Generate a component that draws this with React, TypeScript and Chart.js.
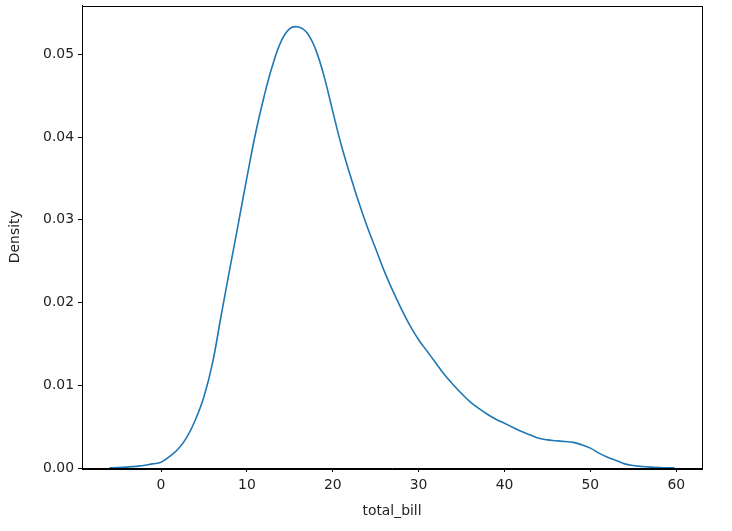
import React, { useEffect, useRef } from "react";
import { Chart, registerables } from "chart.js";

Chart.register(...registerables);

const xValues = [-6, -5, -4, -3, -2, -1, 0, 1, 2, 3, 4, 5, 6, 7, 8, 9, 10, 11, 12, 13, 14, 15, 16, 17, 18, 19, 20, 21, 22, 23, 24, 25, 26, 27, 28, 29, 30, 31, 32, 33, 34, 35, 36, 37, 38, 39, 40, 41, 42, 43, 44, 45, 46, 47, 48, 49, 50, 51, 52, 53, 54, 55, 56, 57, 58, 59, 59.8];
const densityValues = [0.00003, 0.00005, 0.0001, 0.0002, 0.0003, 0.0005, 0.0007, 0.0014, 0.0023, 0.0037, 0.0058, 0.0086, 0.0127, 0.0184, 0.0240, 0.0295, 0.0351, 0.0404, 0.0449, 0.0487, 0.0516, 0.0531, 0.0533, 0.0526, 0.0506, 0.0473, 0.0431, 0.0390, 0.0355, 0.0322, 0.0292, 0.0265, 0.0238, 0.0214, 0.0192, 0.0172, 0.0155, 0.0141, 0.0127, 0.0113, 0.0101, 0.0090, 0.0080, 0.0072, 0.0065, 0.0059, 0.0054, 0.0049, 0.0044, 0.0040, 0.0036, 0.0034, 0.0033, 0.0032, 0.0031, 0.0028, 0.0024, 0.0018, 0.0013, 0.0009, 0.0005, 0.0003, 0.00018, 0.0001, 0.00005, 0.00002, 0.00001];
const xTicks = [0, 10, 20, 30, 40, 50, 60];
const yTicks = [0, 0.01, 0.02, 0.03, 0.04, 0.05];

const FONT = "'DejaVu Sans', sans-serif";

const boxPlugin = {
  id: "boxPlugin",
  afterDraw(chart: any) {
    const { ctx, chartArea } = chart;
    ctx.save();
    ctx.strokeStyle = "#000";
    ctx.lineWidth = 1;
    ctx.strokeRect(Math.round(chartArea.left) + 0.5, Math.round(chartArea.top) + 0.5, Math.round(chartArea.right - chartArea.left), Math.round(chartArea.bottom - chartArea.top));
    ctx.restore();
  },
};

export default function App() {
  const ref = useRef<HTMLCanvasElement | null>(null);
  useEffect(() => {
    if (!ref.current) return;
    const chart = new Chart(ref.current, {
      type: "line",
      data: {
        datasets: [
          {
            data: xValues.map((x, i) => ({ x, y: densityValues[i] })),
            borderColor: "#1f77b4",
            borderWidth: 1.6,
            pointRadius: 0,
            tension: 0.4,
            fill: false,
          },
        ],
      },
      options: {
        animation: false,
        responsive: false,
        maintainAspectRatio: false,
        layout: { padding: { top: 5.5, right: 30, bottom: 0, left: 0 } },
        plugins: { legend: { display: false }, tooltip: { enabled: false } },
        scales: {
          x: {
            type: "linear",
            min: -9.2,
            max: 63.0,
            afterBuildTicks: (axis: any) => {
              axis.ticks = xTicks.map((v) => ({ value: v }));
            },
            afterFit: (axis: any) => {
              axis.height = 63;
              axis.paddingLeft = 0;
              axis.paddingRight = 0;
            },
            grid: { drawOnChartArea: false, color: "#000", tickLength: 4, tickWidth: 1 },
            border: { display: true, color: "#000", width: 1 },
            ticks: { color: "#222", font: { family: FONT, size: 13.9 }, padding: 5, maxRotation: 0, callback: (v: any) => String(v) },
            title: { display: true, text: "total_bill", color: "#222", font: { family: FONT, size: 13.9 }, padding: { top: 4, bottom: 11 } },
          },
          y: {
            type: "linear",
            min: 0,
            max: 0.0559,
            afterBuildTicks: (axis: any) => {
              axis.ticks = yTicks.map((v) => ({ value: v }));
            },
            afterFit: (axis: any) => {
              axis.width = 82;
              axis.paddingTop = 0;
              axis.paddingBottom = 0;
            },
            grid: { drawOnChartArea: false, color: "#000", tickLength: 4, tickWidth: 1 },
            border: { display: true, color: "#000", width: 1 },
            ticks: { color: "#222", font: { family: FONT, size: 13.9 }, padding: 4, callback: (v: any) => Number(v).toFixed(2) },
            title: { display: true, text: "Density", color: "#222", font: { family: FONT, size: 13.9 }, padding: { top: 7, bottom: 0 } },
          },
        },
      },
      plugins: [boxPlugin],
    });
    return () => chart.destroy();
  }, []);
  return (
    <div style={{ position: "absolute", left: 0, top: 0, width: 732, height: 531, background: "#fff" }}>
      <canvas ref={ref} width={732} height={531} style={{ width: 732, height: 531 }} />
    </div>
  );
}
